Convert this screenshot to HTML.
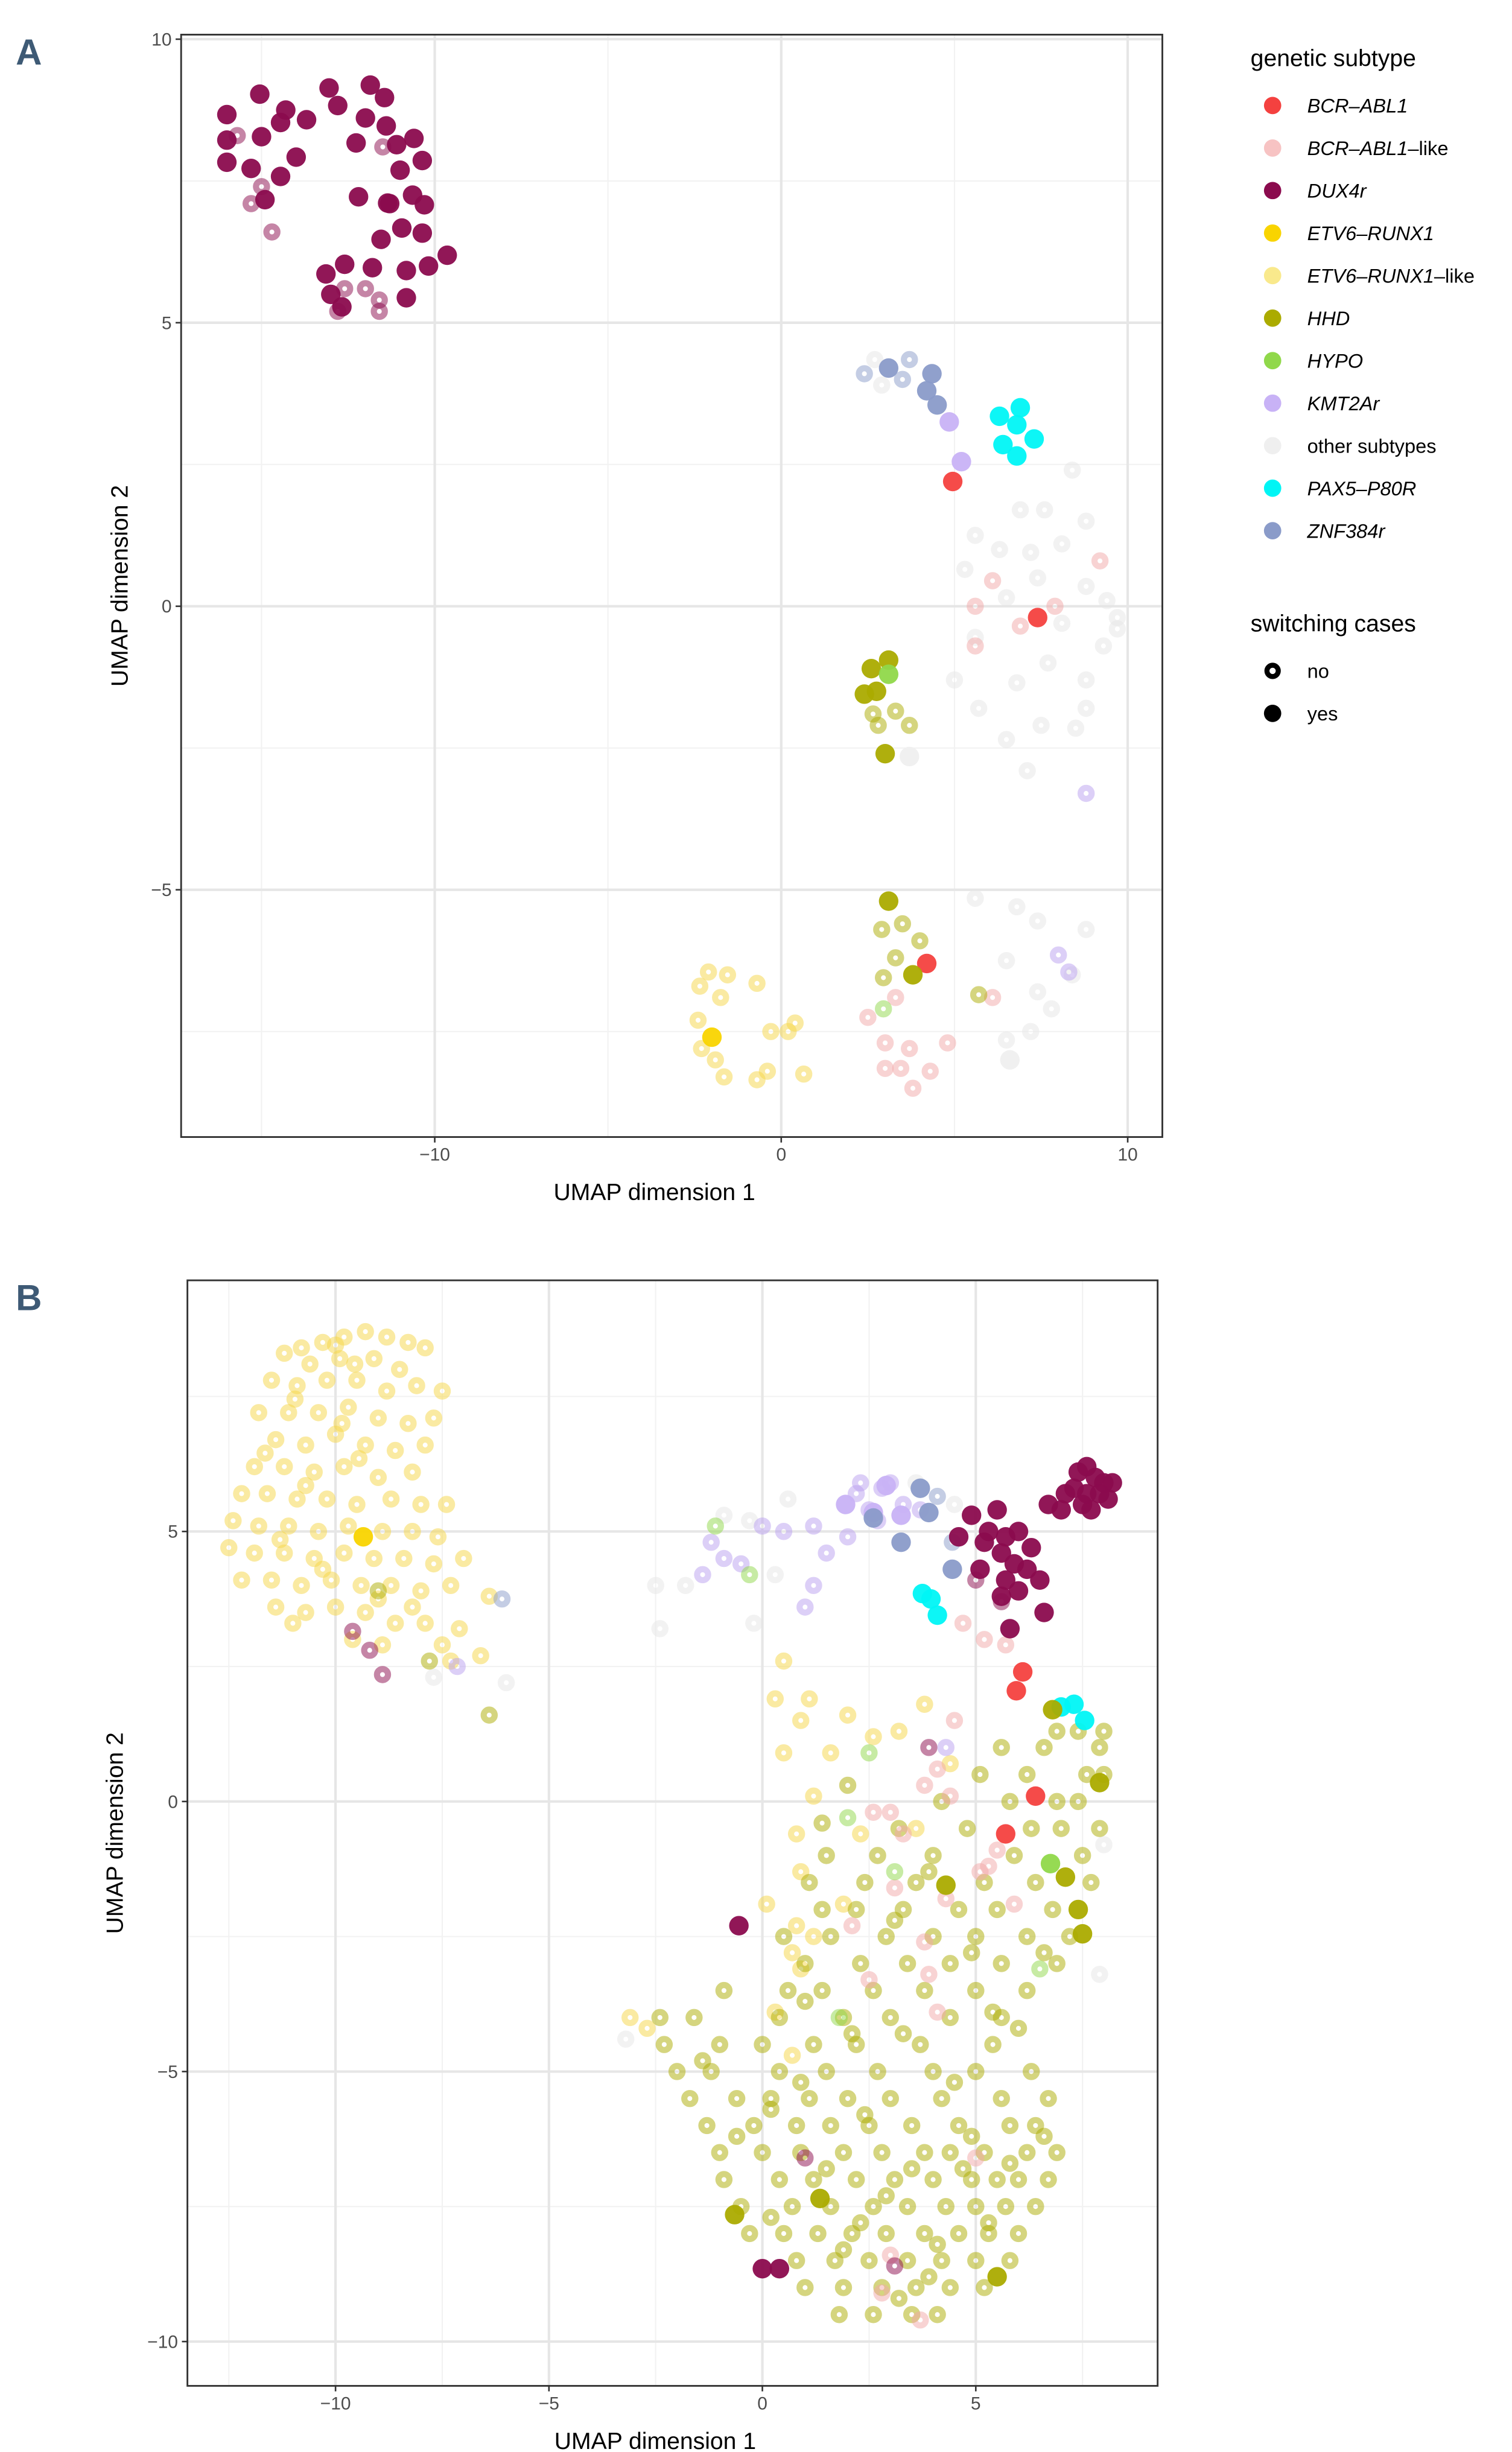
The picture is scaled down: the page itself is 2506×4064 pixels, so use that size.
<!DOCTYPE html>
<html><head><meta charset="utf-8">
<style>
html,body{margin:0;padding:0;background:#fff;}
svg{display:block;}
text{font-family:"Liberation Sans",sans-serif;}
</style></head>
<body>
<svg id="chart" width="2506" height="4064" viewBox="0 0 960 1557" preserveAspectRatio="none" xmlns="http://www.w3.org/2000/svg">
<rect x="0" y="0" width="960" height="1557" fill="#fff"/>
<g id="panelA"></g>
<g id="panelB"></g>
<g id="legend"></g>
</svg>
<script>
// ---------- DATA ----------
const subtypes = ["BCR-ABL1","BCR-ABL1-like","DUX4r","ETV6-RUNX1","ETV6-RUNX1-like","HHD","HYPO","KMT2Ar","other subtypes","PAX5-P80R","ZNF384r"];
const subtypeLabels = ["BCR\u2013ABL1","BCR\u2013ABL1\u2013like","DUX4r","ETV6\u2013RUNX1","ETV6\u2013RUNX1\u2013like","HHD","HYPO","KMT2Ar","other subtypes","PAX5\u2013P80R","ZNF384r"];
const subtypeColors = ["#F4413F","#F7C3C3","#8B0B4E","#F9D400","#F9E98C","#ABAB00","#90D84A","#C8B2F6","#EFEFEF","#00F5F5","#8A9BC9"];
const ringColors = ["#F4413F","#F2A8A8","#8B0B4E","#F9D400","#F5D645","#ABAB00","#90D84A","#B9A0F0","#E6E6E6","#00F5F5","#8A9BC9"];
const switchLabels = ["no","yes"];

const aTicksX = [-10,0,10];
const aTicksY = [-5,0,5,10];
const bTicksX = [-10,-5,0,5];
const bTicksY = [-10,-5,0,5];

// Panel A points [x,y]
const aDux4rYes = [[-16.0,8.67],[-15.05,9.03],[-14.3,8.75],[-13.7,8.58],[-14.45,8.53],[-15.0,8.28],[-16.0,8.22],[-15.3,7.72],[-14.0,7.92],[-14.45,7.58],[-14.9,7.17],[-13.05,9.14],[-12.8,8.83],[-11.86,9.19],[-11.45,8.97],[-12.0,8.61],[-12.27,8.17],[-11.1,8.14],[-10.6,8.25],[-10.36,7.86],[-11.0,7.69],[-12.2,7.22],[-11.36,7.11],[-10.64,7.25],[-10.3,7.08],[-10.95,6.67],[-10.36,6.58],[-11.55,6.47],[-13.14,5.86],[-12.6,6.03],[-11.8,5.97],[-13.0,5.5],[-12.68,5.28],[-10.82,5.92],[-10.18,6.0],[-9.64,6.19],[-10.82,5.44],[-16.0,7.83],[-11.4,8.47],[-11.3,7.1]];
const aDux4rNo = [[-15.7,8.3],[-15.3,7.1],[-15.0,7.4],[-14.7,6.6],[-11.5,8.1],[-12.0,5.6],[-11.6,5.4],[-11.6,5.2],[-12.8,5.2],[-12.6,5.6]];
const aZnfYes = [[3.1,4.2],[4.35,4.1],[4.2,3.8],[4.5,3.55]];
const aZnfNo = [[2.4,4.1],[3.7,4.35],[3.5,4.0]];
const aKmtYes = [[4.85,3.25],[5.2,2.55]];
const aKmtNo = [[8.8,-3.3],[8.0,-6.15],[8.3,-6.45]];
const aPaxYes = [[6.3,3.35],[6.9,3.5],[6.8,3.2],[7.3,2.95],[6.4,2.85],[6.8,2.65]];
const aBcrYes = [[4.95,2.2],[7.4,-0.2],[4.2,-6.3]];
const aBcrLikeNo = [[9.2,0.8],[5.6,0],[5.6,-0.7],[6.9,-0.35],[6.1,0.45],[7.9,0],[3.3,-6.9],[2.5,-7.25],[3.0,-7.7],[3.7,-7.8],[4.8,-7.7],[4.3,-8.2],[3.0,-8.15],[3.45,-8.15],[3.8,-8.5],[6.1,-6.9]];
const aOtherNo = [[2.7,4.35],[2.9,3.9],[8.4,2.4],[6.9,1.7],[7.6,1.7],[8.8,1.5],[5.6,1.25],[6.3,1.0],[7.2,0.95],[8.1,1.1],[5.3,0.65],[7.4,0.5],[8.8,0.35],[9.4,0.1],[9.7,-0.2],[6.5,0.15],[8.1,-0.3],[9.3,-0.7],[8.8,-1.3],[7.7,-1.0],[6.8,-1.35],[5.0,-1.3],[5.7,-1.8],[7.5,-2.1],[8.5,-2.15],[7.1,-2.9],[6.5,-2.35],[8.8,-1.8],[9.7,-0.4],[5.6,-0.55],[5.6,-5.15],[6.8,-5.3],[7.4,-5.55],[8.8,-5.7],[6.5,-6.25],[7.4,-6.8],[8.4,-6.5],[7.8,-7.1],[6.5,-7.65],[7.2,-7.5]];
const aOtherYes = [[3.7,-2.65],[6.6,-8.0]];
const aHhdYes = [[2.6,-1.1],[3.1,-0.95],[2.4,-1.55],[2.75,-1.5],[3.0,-2.6],[3.1,-5.2],[3.8,-6.5]];
const aHypoYes = [[3.1,-1.2]];
const aHhdNo = [[2.65,-1.9],[2.8,-2.1],[3.3,-1.85],[3.7,-2.1],[3.5,-5.6],[2.9,-5.7],[3.3,-6.2],[2.95,-6.55],[5.7,-6.85],[4.0,-5.9]];
const aHypoNo = [[2.95,-7.1]];
const aEtvYes = [[-2.0,-7.6]];
const aEtvLikeNo = [[-2.1,-6.45],[-1.55,-6.5],[-2.35,-6.7],[-1.75,-6.9],[-2.4,-7.3],[-0.7,-6.65],[-2.3,-7.8],[-1.9,-8.0],[-1.65,-8.3],[-0.3,-7.5],[0.2,-7.5],[-0.4,-8.2],[-0.7,-8.35],[0.65,-8.25],[0.4,-7.35]];

// Panel B points [x,y]
const bEtvLikeNo = [[-11.2,8.3],[-10.8,8.4],[-10.3,8.5],[-9.8,8.6],[-9.3,8.7],[-8.8,8.6],[-8.3,8.5],[-7.9,8.4],[-10.6,8.1],[-9.9,8.2],[-9.1,8.2],[-8.5,8.0],[-11.5,7.8],[-10.9,7.7],[-10.2,7.8],[-9.5,7.8],[-8.8,7.6],[-8.1,7.7],[-7.5,7.6],[-11.8,7.2],[-11.1,7.2],[-10.4,7.2],[-9.7,7.3],[-9.0,7.1],[-8.3,7.0],[-7.7,7.1],[-11.4,6.7],[-10.7,6.6],[-10.0,6.8],[-9.3,6.6],[-8.6,6.5],[-7.9,6.6],[-11.9,6.2],[-11.2,6.2],[-10.5,6.1],[-9.8,6.2],[-9.0,6.0],[-8.2,6.1],[-12.2,5.7],[-11.6,5.7],[-10.9,5.6],[-10.2,5.6],[-9.5,5.5],[-8.7,5.6],[-8.0,5.5],[-7.4,5.5],[-12.4,5.2],[-11.8,5.1],[-11.1,5.1],[-10.4,5.0],[-9.7,5.1],[-8.9,5.0],[-8.2,5.0],[-7.6,4.9],[-12.5,4.7],[-11.9,4.6],[-11.2,4.6],[-10.5,4.5],[-9.8,4.6],[-9.1,4.5],[-8.4,4.5],[-7.7,4.4],[-7.0,4.5],[-12.2,4.1],[-11.5,4.1],[-10.8,4.0],[-10.1,4.1],[-9.4,4.0],[-8.7,4.0],[-8.0,3.9],[-7.3,4.0],[-6.4,3.8],[-11.4,3.6],[-10.7,3.5],[-10.0,3.6],[-9.3,3.5],[-8.6,3.3],[-7.9,3.3],[-7.1,3.2],[-11.0,3.3],[-9.6,3.0],[-8.9,2.9],[-7.3,2.6],[-6.6,2.7],
[-10.0,8.45],[-9.55,8.1],[-10.95,7.45],[-9.85,7.0],[-11.65,6.45],[-9.45,6.35],[-10.7,5.85],[-11.3,4.85],[-10.3,4.3],[-9.0,3.75],[-8.2,3.6],[-7.5,2.9],
[-3.1,-4.0],[-2.7,-4.2],[0.3,1.9],[1.1,1.9],[2.0,1.6],[0.9,1.5],[2.6,1.2],[3.2,1.3],[1.6,0.9],[1.2,0.1],[0.8,-0.6],[2.3,-0.6],[0.9,-1.3],[0.8,-2.3],[0.7,-2.8],[1.2,-2.5],[1.9,-1.9],[0.9,-3.1],[0.1,-1.9],[3.6,-0.5],[3.8,1.8],[4.4,0.7],[0.7,-4.7],[0.3,-3.9],[0.5,0.9],[0.5,2.6]];
const bEtvYes = [[-9.35,4.9]];
const bDux4rNo = [[-9.6,3.15],[-9.2,2.8],[-8.9,2.35],[5.0,4.1],[5.6,3.7],[3.9,1.0],[1.0,-6.6],[3.1,-8.6]];
const bDux4rYes = [[7.4,6.1],[7.6,6.2],[7.8,6.0],[8.0,5.9],[8.2,5.9],[7.3,5.8],[7.6,5.7],[7.9,5.7],[8.1,5.6],[7.5,5.5],[7.1,5.7],[6.7,5.5],[7.0,5.4],[7.7,5.4],[4.9,5.3],[5.5,5.4],[4.6,4.9],[5.3,5.0],[5.7,4.9],[6.0,5.0],[6.3,4.7],[5.6,4.6],[5.9,4.4],[6.2,4.3],[5.1,4.3],[5.7,4.1],[6.0,3.9],[5.6,3.8],[6.5,4.1],[5.8,3.2],[6.6,3.5],[5.2,4.8],[-0.55,-2.3],[0,-8.65],[0.4,-8.65]];
const bKmtNo = [[-7.15,2.5],[-1.2,4.8],[-0.9,4.5],[0,5.1],[0.5,5.0],[1.2,5.1],[1.5,4.6],[1.2,4.0],[2.0,4.9],[2.5,5.4],[2.2,5.7],[2.8,5.8],[3.3,5.5],[3.0,5.9],[1.0,3.6],[-1.4,4.2],[-0.5,4.4],[3.7,5.4],[2.7,5.2],[4.3,1.0],[2.3,5.9]];
const bKmtYes = [[1.95,5.5],[2.6,5.35],[3.25,5.3],[2.9,5.85]];
const bZnfYes = [[2.6,5.25],[3.7,5.8],[3.9,5.35],[3.25,4.8],[4.45,4.3]];
const bZnfNo = [[4.1,5.65],[4.45,4.8],[-6.1,3.75]];
const bOtherNo = [[-2.5,4.0],[-1.8,4.0],[-0.9,5.3],[-0.3,5.2],[0.3,4.2],[-2.4,3.2],[4.5,5.5],[3.6,5.9],[-0.2,3.3],[-7.7,2.3],[-6.0,2.2],[8.0,-0.8],[7.9,-3.2],[-3.2,-4.4],[0.6,5.6]];
const bPaxYes = [[3.75,3.85],[3.95,3.75],[4.1,3.45],[7.0,1.75],[7.3,1.8],[7.55,1.5]];
const bBcrYes = [[6.1,2.4],[5.95,2.05],[6.4,0.1],[5.7,-0.6]];
const bBcrLikeNo = [[4.7,3.3],[5.2,3.0],[5.7,2.9],[4.5,1.5],[4.1,0.6],[3.8,0.3],[4.4,0.1],[2.6,-0.2],[3.3,-0.6],[3.1,-1.6],[4.3,-1.8],[5.1,-1.3],[5.5,-0.9],[5.3,-1.2],[3.8,-2.6],[2.5,-3.3],[3.9,-3.2],[5.9,-1.9],[4.1,-3.9],[2.1,-2.3],[3.0,-0.2],[5.0,-6.6],[3.0,-8.4],[3.7,-9.6],[2.8,-9.1]];
const bHhdYes = [[7.9,0.35],[6.8,1.7],[7.1,-1.4],[7.4,-2.0],[7.5,-2.45],[4.3,-1.55],[1.35,-7.35],[-0.65,-7.65],[5.5,-8.8]];
const bHypoYes = [[6.75,-1.15]];
const bHypoNo = [[-1.1,5.1],[-0.3,4.2],[2.0,-0.3],[2.5,0.9],[1.8,-4.0],[6.5,-3.1],[3.1,-1.3]];
const bHhdNo = [[-6.4,1.6],[-7.8,2.6],[-9.0,3.9],
[6.9,1.3],[7.4,1.3],[8.0,1.3],[5.6,1.0],[6.6,1.0],[7.9,1.0],[5.1,0.5],[6.2,0.5],[7.6,0.5],[8.0,0.5],[4.2,0.0],[5.8,0.0],[6.9,0.0],[7.4,0.0],
[3.2,-0.5],[4.8,-0.5],[6.3,-0.5],[7.0,-0.5],[7.9,-0.5],[1.5,-1.0],[2.7,-1.0],[4.0,-1.0],[5.9,-1.0],[7.5,-1.0],
[1.1,-1.5],[2.4,-1.5],[3.6,-1.5],[5.2,-1.5],[6.4,-1.5],[7.7,-1.5],[1.4,-2.0],[2.2,-2.0],[3.3,-2.0],[4.6,-2.0],[5.5,-2.0],[6.8,-2.0],
[0.5,-2.5],[1.6,-2.5],[2.9,-2.5],[4.0,-2.5],[5.0,-2.5],[6.2,-2.5],[7.2,-2.5],[1.0,-3.0],[2.3,-3.0],[3.4,-3.0],[4.4,-3.0],[5.6,-3.0],[6.9,-3.0],
[-0.9,-3.5],[0.6,-3.5],[1.4,-3.5],[2.6,-3.5],[3.8,-3.5],[5.0,-3.5],[6.2,-3.5],[-2.4,-4.0],[-1.6,-4.0],[0.4,-4.0],[1.9,-4.0],[3.0,-4.0],[4.4,-4.0],[5.6,-4.0],
[-2.3,-4.5],[-1.0,-4.5],[0.0,-4.5],[1.2,-4.5],[2.2,-4.5],[3.7,-4.5],[5.4,-4.5],[-2.0,-5.0],[-1.2,-5.0],[0.4,-5.0],[1.5,-5.0],[2.7,-5.0],[4.0,-5.0],[5.0,-5.0],[6.3,-5.0],
[-1.7,-5.5],[-0.6,-5.5],[0.2,-5.5],[1.1,-5.5],[2.0,-5.5],[3.0,-5.5],[4.2,-5.5],[5.6,-5.5],[6.7,-5.5],[-1.3,-6.0],[-0.2,-6.0],[0.8,-6.0],[1.6,-6.0],[2.5,-6.0],[3.5,-6.0],[4.6,-6.0],[5.8,-6.0],[6.4,-6.0],
[-1.0,-6.5],[0.0,-6.5],[0.9,-6.5],[1.9,-6.5],[2.8,-6.5],[3.8,-6.5],[4.4,-6.5],[5.2,-6.5],[6.2,-6.5],[6.9,-6.5],[-0.9,-7.0],[0.4,-7.0],[1.2,-7.0],[2.2,-7.0],[3.1,-7.0],[4.0,-7.0],[4.9,-7.0],[5.5,-7.0],[6.0,-7.0],[6.7,-7.0],
[-0.5,-7.5],[0.7,-7.5],[1.6,-7.5],[2.6,-7.5],[3.4,-7.5],[4.3,-7.5],[5.0,-7.5],[5.7,-7.5],[6.4,-7.5],[-0.3,-8.0],[0.5,-8.0],[1.3,-8.0],[2.1,-8.0],[2.9,-8.0],[3.8,-8.0],[4.6,-8.0],[5.3,-8.0],[6.0,-8.0],
[0.8,-8.5],[1.7,-8.5],[2.5,-8.5],[3.4,-8.5],[4.2,-8.5],[5.0,-8.5],[5.8,-8.5],[1.0,-9.0],[1.9,-9.0],[2.8,-9.0],[3.6,-9.0],[4.4,-9.0],[5.2,-9.0],[1.8,-9.5],[2.6,-9.5],[3.5,-9.5],[4.1,-9.5],
[2.0,0.3],[1.4,-0.4],[3.9,-1.3],[4.9,-2.8],[6.0,-4.2],[0.2,-5.7],[3.3,-4.3],[4.7,-6.8],[2.3,-7.8],[3.9,-8.8],
[-1.4,-4.8],[0.9,-5.2],[2.4,-5.8],[4.9,-6.2],[1.5,-6.8],[3.5,-6.8],[0.2,-7.7],[2.9,-7.3],[5.3,-7.8],[1.9,-8.3],[4.1,-8.2],[3.2,-9.2],[6.6,-6.2],[5.8,-6.7],[-0.6,-6.2],[4.5,-5.2],[2.1,-4.3],[1.0,-3.7],[5.4,-3.9],[3.1,-2.2],[6.6,-2.8]];

// ---------- DRAW ----------
const NS = "http://www.w3.org/2000/svg";
function mk(tag, attrs, parent){ const e=document.createElementNS(NS,tag); for(const k in attrs) e.setAttribute(k,attrs[k]); parent.appendChild(e); return e; }
function fmt(v){ return v<0 ? "\u2212"+Math.abs(v) : String(v); }

function makeAxes(cfg){
  const sx = v => cfg.px0 + (v - cfg.xmin)/(cfg.xmax - cfg.xmin)*(cfg.px1 - cfg.px0);
  const sy = v => cfg.py1 - (v - cfg.ymin)/(cfg.ymax - cfg.ymin)*(cfg.py1 - cfg.py0);
  return {sx, sy};
}

function drawPanel(g, cfg, ticksX, ticksY, layers, letter){
  const {sx, sy} = makeAxes(cfg);
  const grid = mk("g",{},g);
  
  
  const minorsX=[], minorsY=[];
  for(let i=0;i<ticksX.length-1;i++) minorsX.push((ticksX[i]+ticksX[i+1])/2);
  minorsX.push(ticksX[0]-(ticksX[1]-ticksX[0])/2); minorsX.push(ticksX[ticksX.length-1]+(ticksX[1]-ticksX[0])/2);
  for(let i=0;i<ticksY.length-1;i++) minorsY.push((ticksY[i]+ticksY[i+1])/2);
  minorsY.push(ticksY[0]-(ticksY[1]-ticksY[0])/2); minorsY.push(ticksY[ticksY.length-1]+(ticksY[1]-ticksY[0])/2);
  minorsX.forEach(v=>{ const x=sx(v); if(x>cfg.px0&&x<cfg.px1) mk("line",{x1:x,x2:x,y1:cfg.py0,y2:cfg.py1,stroke:"#f2f2f2","stroke-width":0.8},grid); });
  minorsY.forEach(v=>{ const y=sy(v); if(y>cfg.py0&&y<cfg.py1) mk("line",{x1:cfg.px0,x2:cfg.px1,y1:y,y2:y,stroke:"#f2f2f2","stroke-width":0.8},grid); });
  ticksX.forEach(v=>{ const x=sx(v); mk("line",{x1:x,x2:x,y1:cfg.py0,y2:cfg.py1,stroke:"#e6e6e6","stroke-width":1.6},grid); });
  ticksY.forEach(v=>{ const y=sy(v); mk("line",{x1:cfg.px0,x2:cfg.px1,y1:y,y2:y,stroke:"#e6e6e6","stroke-width":1.6},grid); });

  const pts = mk("g",{},g);
  
  
  layers.forEach(L=>{
    L.d.forEach(p=>{
      let c;
      if(L.yes){
        c = mk("circle",{cx:sx(p[0]),cy:sy(p[1]),r:6.2,fill:subtypeColors[L.t],"fill-opacity":0.95},pts);
      } else {
        c = mk("circle",{cx:sx(p[0]),cy:sy(p[1]),r:3.5,fill:"none",stroke:ringColors[L.t],"stroke-width":3.9,"stroke-opacity":0.5},pts);
      }
      
      
    });
  });

  const border = mk("rect",{x:cfg.px0,y:cfg.py0,width:cfg.px1-cfg.px0,height:cfg.py1-cfg.py0,fill:"none",stroke:"#333","stroke-width":1.1},g);
  
  

  ticksX.forEach(v=>{ const x=sx(v);
    mk("line",{x1:x,x2:x,y1:cfg.py1,y2:cfg.py1+3.5,stroke:"#333","stroke-width":1},g);
    const t=mk("text",{x:x,y:cfg.py1+15,"text-anchor":"middle","font-size":11.5,fill:"#4d4d4d"},g); t.textContent=fmt(v);
    
    
  });
  ticksY.forEach(v=>{ const y=sy(v);
    mk("line",{x1:cfg.px0-3.5,x2:cfg.px0,y1:y,y2:y,stroke:"#333","stroke-width":1},g);
    const t=mk("text",{x:cfg.px0-6,y:y+4,"text-anchor":"end","font-size":11.5,fill:"#4d4d4d"},g); t.textContent=fmt(v);
    
    
  });
  const xt=mk("text",{x:(cfg.px0+cfg.px1)/2 - 11,y:cfg.py1+40,"text-anchor":"middle","font-size":15,fill:"#000"},g); xt.textContent="UMAP dimension 1";
  
  
  const yc=(cfg.py0+cfg.py1)/2;
  const yt=mk("text",{x:cfg.ytx,y:yc,"text-anchor":"middle","font-size":15,fill:"#000",transform:`rotate(-90 ${cfg.ytx} ${yc})`},g); yt.textContent="UMAP dimension 2";
  
  
  const lt=mk("text",{x:10,y:cfg.letterY,"font-size":23,"font-weight":"bold",fill:"#3e5a75",style:"font-family:'Liberation Sans Narrow','Liberation Sans',sans-serif"},g); lt.textContent=letter;
  
  
}

const T = {}; subtypes.forEach((s,i)=>T[s]=i);

drawPanel(document.getElementById("panelA"),
  {px0:115,px1:738,py0:22,py1:722,xmin:-17.32,xmax:11.0,ymin:-9.36,ymax:10.08,ytx:81,letterY:41},
  aTicksX, aTicksY, [
   {t:T["other subtypes"],d:aOtherNo,yes:false},
   {t:T["BCR-ABL1-like"],d:aBcrLikeNo,yes:false},
   {t:T["DUX4r"],d:aDux4rNo,yes:false},
   {t:T["ZNF384r"],d:aZnfNo,yes:false},
   {t:T["KMT2Ar"],d:aKmtNo,yes:false},
   {t:T["HHD"],d:aHhdNo,yes:false},
   {t:T["HYPO"],d:aHypoNo,yes:false},
   {t:T["ETV6-RUNX1-like"],d:aEtvLikeNo,yes:false},
   {t:T["other subtypes"],d:aOtherYes,yes:true},
   {t:T["DUX4r"],d:aDux4rYes,yes:true},
   {t:T["ZNF384r"],d:aZnfYes,yes:true},
   {t:T["KMT2Ar"],d:aKmtYes,yes:true},
   {t:T["PAX5-P80R"],d:aPaxYes,yes:true},
   {t:T["BCR-ABL1"],d:aBcrYes,yes:true},
   {t:T["HHD"],d:aHhdYes,yes:true},
   {t:T["HYPO"],d:aHypoYes,yes:true},
   {t:T["ETV6-RUNX1"],d:aEtvYes,yes:true}
  ], "A");

drawPanel(document.getElementById("panelB"),
  {px0:119,px1:735,py0:813,py1:1515,xmin:-13.47,xmax:9.26,ymin:-10.82,ymax:9.65,ytx:78,letterY:832},
  bTicksX, bTicksY, [
   {t:T["other subtypes"],d:bOtherNo,yes:false},
   {t:T["ETV6-RUNX1-like"],d:bEtvLikeNo,yes:false},
   {t:T["HHD"],d:bHhdNo,yes:false},
   {t:T["BCR-ABL1-like"],d:bBcrLikeNo,yes:false},
   {t:T["DUX4r"],d:bDux4rNo,yes:false},
   {t:T["KMT2Ar"],d:bKmtNo,yes:false},
   {t:T["ZNF384r"],d:bZnfNo,yes:false},
   {t:T["HYPO"],d:bHypoNo,yes:false},
   {t:T["ETV6-RUNX1"],d:bEtvYes,yes:true},
   {t:T["KMT2Ar"],d:bKmtYes,yes:true},
   {t:T["ZNF384r"],d:bZnfYes,yes:true},
   {t:T["DUX4r"],d:bDux4rYes,yes:true},
   {t:T["PAX5-P80R"],d:bPaxYes,yes:true},
   {t:T["BCR-ABL1"],d:bBcrYes,yes:true},
   {t:T["HHD"],d:bHhdYes,yes:true},
   {t:T["HYPO"],d:bHypoYes,yes:true}
  ], "B");

// Legend
const lg = document.getElementById("legend");
const lt1 = mk("text",{x:794,y:42,"font-size":15,fill:"#000"},lg); lt1.textContent="genetic subtype";


subtypes.forEach((s,i)=>{
  const y = 67 + i*27;
  const c = mk("circle",{cx:808,cy:y,r:5.5,fill:subtypeColors[i]},lg);
  
  
  const italic = s!=="other subtypes";
  const t = mk("text",{x:830,y:y+4.5,"font-size":12.5,fill:"#000","font-style":italic?"italic":"normal"},lg);
  if(s==="BCR-ABL1-like"){ t.innerHTML='BCR\u2013ABL1<tspan font-style="normal">\u2013like</tspan>'; }
  else if(s==="ETV6-RUNX1-like"){ t.innerHTML='ETV6\u2013RUNX1<tspan font-style="normal">\u2013like</tspan>'; }
  else t.textContent = subtypeLabels[i];
  
  
});
const lt2 = mk("text",{x:794,y:401,"font-size":15,fill:"#000"},lg); lt2.textContent="switching cases";


switchLabels.forEach((s,i)=>{
  const y = 426 + i*27;
  let c;
  if(i===0) c = mk("circle",{cx:808,cy:y,r:3.6,fill:"none",stroke:"#000","stroke-width":3.2},lg);
  else c = mk("circle",{cx:808,cy:y,r:5.5,fill:"#000"},lg);
  
  
  const t = mk("text",{x:830,y:y+4.5,"font-size":12.5,fill:"#000"},lg); t.textContent=s;
  
  
});
</script>
</body></html>
